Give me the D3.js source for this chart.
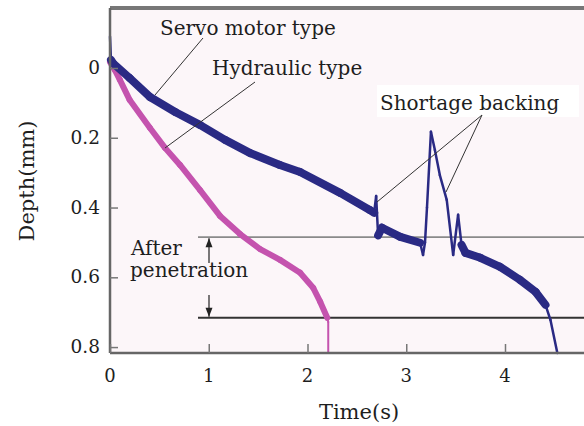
<!DOCTYPE html>
<html>
<head>
<meta charset="utf-8">
<script src="https://cdn.jsdelivr.net/npm/d3@7"></script>
<style>
  body { margin: 0; background: #fff; }
  svg { display: block; }
  text { font-family: "DejaVu Serif", "Liberation Serif", serif; fill: #1e1e1e; }
</style>
</head>
<body>
<svg id="chart" width="584" height="426"></svg>
<script>
// Servo motor type: time (s) / depth (mm)
const servoTime  = [0, 0.01, 0.03, 0.2, 0.405, 0.66, 0.91, 1.165, 1.42, 1.72, 1.925, 2.33, 2.63, 2.675, 2.695, 2.715, 2.755, 2.94, 3.14, 3.17, 3.19, 3.21, 3.25, 3.29, 3.34, 3.41, 3.475, 3.525, 3.56, 3.6, 3.75, 3.95, 4.15, 4.31, 4.41, 4.46, 4.53];
const servoDepth = [-0.09, -0.023, -0.014, 0.029, 0.083, 0.126, 0.163, 0.206, 0.244, 0.278, 0.298, 0.358, 0.407, 0.415, 0.367, 0.48, 0.458, 0.484, 0.501, 0.536, 0.5, 0.4, 0.183, 0.235, 0.307, 0.378, 0.536, 0.421, 0.507, 0.53, 0.544, 0.57, 0.607, 0.642, 0.679, 0.722, 0.817];

// Hydraulic type
const hydroTime  = [0, 0.05, 0.1, 0.2, 0.405, 0.557, 0.709, 0.912, 1.114, 1.317, 1.52, 1.722, 1.925, 2.057, 2.128, 2.2, 2.21, 2.21];
const hydroDepth = [-0.017, 0.006, 0.034, 0.092, 0.172, 0.229, 0.278, 0.35, 0.424, 0.476, 0.519, 0.55, 0.587, 0.63, 0.67, 0.716, 0.728, 0.817];

const xTicks = [0, 1, 2, 3, 4];
const yTicks = [0, 0.2, 0.4, 0.6, 0.8];
const refDepths = [0.485, 0.716];   // after penetration band

const svg = d3.select('#chart');
const margin = { left: 110, top: 8, right: 0, bottom: 73 };
const W = 584, H = 426;

const x = d3.scaleLinear().domain([0, 4.8]).range([margin.left, W]);
const y = d3.scaleLinear().domain([-0.172, 0.817]).range([margin.top, H - margin.bottom]);

// plot background
svg.append('rect')
  .attr('x', x(0)).attr('y', y(-0.172))
  .attr('width', W - x(0)).attr('height', y(0.817) - y(-0.172))
  .attr('fill', '#fcf6f9');

// reference lines
svg.append('line')
  .attr('x1', 198).attr('x2', W)
  .attr('y1', y(refDepths[0])).attr('y2', y(refDepths[0]))
  .attr('stroke', '#8a8a8a').attr('stroke-width', 1.8);
svg.append('line')
  .attr('x1', 198).attr('x2', W)
  .attr('y1', y(refDepths[1])).attr('y2', y(refDepths[1]))
  .attr('stroke', '#333').attr('stroke-width', 2);

// curves, drawn segment by segment so steep jumps get a thin pen
const drawCurve = (ts, ds, color, wide, thin) => {
  const pts = ts.map((t, i) => [x(t), y(ds[i])]);
  const g = svg.append('g');
  for (let i = 0; i < pts.length - 1; i++) {
    const a = pts[i], b = pts[i + 1];
    const steep = Math.abs(b[1] - a[1]) > 2.5 * Math.abs(b[0] - a[0]);
    g.append('path')
      .attr('d', d3.line()([a, b]))
      .attr('stroke', color)
      .attr('stroke-width', steep ? thin : wide)
      .attr('stroke-linecap', 'round')
      .attr('fill', 'none');
  }
};
drawCurve(hydroTime, hydroDepth, '#c453ae', 6, 2);
drawCurve(servoTime, servoDepth, '#2a2a84', 8, 2.5);

// frame
svg.append('line').attr('x1', x(0)).attr('x2', W).attr('y1', y(-0.172)).attr('y2', y(-0.172))
  .attr('stroke', '#777').attr('stroke-width', 4);
svg.append('line').attr('x1', x(0)).attr('x2', x(0)).attr('y1', y(-0.172)).attr('y2', y(0.817))
  .attr('stroke', '#666').attr('stroke-width', 2.5);
svg.append('line').attr('x1', x(0)).attr('x2', W).attr('y1', y(0.817)).attr('y2', y(0.817))
  .attr('stroke', '#666').attr('stroke-width', 2.5);

// axes (ticks pointing inward)
const xAxis = svg.append('g')
  .attr('transform', `translate(0,${y(0.817)})`)
  .call(d3.axisTop(x).tickValues(xTicks).tickSize(9).tickFormat(''));
xAxis.select('.domain').remove();
xAxis.selectAll('line').attr('stroke', '#777').attr('stroke-width', 1.5);
svg.selectAll('.xlab').data(xTicks).enter().append('text')
  .attr('x', d => x(d)).attr('y', 382)
  .attr('text-anchor', 'middle').attr('font-size', 18)
  .text(d => d);

const yAxis = svg.append('g')
  .attr('transform', `translate(${x(0)},0)`)
  .call(d3.axisRight(y).tickValues(yTicks).tickSize(8).tickFormat(''));
yAxis.select('.domain').remove();
yAxis.selectAll('line').attr('stroke', '#777').attr('stroke-width', 1.5);
svg.selectAll('.ylab').data(yTicks).enter().append('text')
  .attr('x', 100).attr('y', d => y(d) + 6)
  .attr('text-anchor', 'end').attr('font-size', 18.5)
  .text(d => d === 0 ? '0' : d3.format('.1f')(d));

// axis titles
svg.append('text')
  .attr('x', 359).attr('y', 419)
  .attr('text-anchor', 'middle').attr('font-size', 21)
  .text('Time(s)');
svg.append('text')
  .attr('transform', `translate(34,181) rotate(-90)`)
  .attr('text-anchor', 'middle').attr('font-size', 21)
  .text('Depth(mm)');

// annotations
const leader = (x1, y1, x2, y2) => svg.append('line')
  .attr('x1', x1).attr('y1', y1).attr('x2', x2).attr('y2', y2)
  .attr('stroke', '#333').attr('stroke-width', 1);

svg.append('text').attr('x', 160).attr('y', 35).attr('font-size', 20).text('Servo motor type');
leader(203, 38, 155, 95);
svg.append('text').attr('x', 212).attr('y', 75).attr('font-size', 20).text('Hydraulic type');
leader(255, 82, 165, 148);

svg.append('rect').attr('x', 377).attr('y', 85).attr('width', 202).attr('height', 32).attr('fill', '#fff');
svg.append('text').attr('x', 380).attr('y', 110).attr('font-size', 20).text('Shortage backing');
leader(482, 115, 377, 202);
leader(482, 115, 446, 192);

svg.append('text').attr('x', 131).attr('y', 255).attr('font-size', 20).text('After');
svg.append('text').attr('x', 130).attr('y', 277).attr('font-size', 20).text('penetration');

// arrows marking the penetration band
const arrow = (xa, yTail, yHead) => {
  const dir = yHead < yTail ? 1 : -1;
  svg.append('line').attr('x1', xa).attr('x2', xa).attr('y1', yTail).attr('y2', yHead)
    .attr('stroke', '#222').attr('stroke-width', 1.2);
  svg.append('path')
    .attr('d', `M${xa},${yHead} L${xa - 3.5},${yHead + dir * 9} L${xa + 3.5},${yHead + dir * 9} Z`)
    .attr('fill', '#222');
};
arrow(209, 263, y(refDepths[0]) + 1);
arrow(209, 295, y(refDepths[1]) - 1);
</script>
</body>
</html>
